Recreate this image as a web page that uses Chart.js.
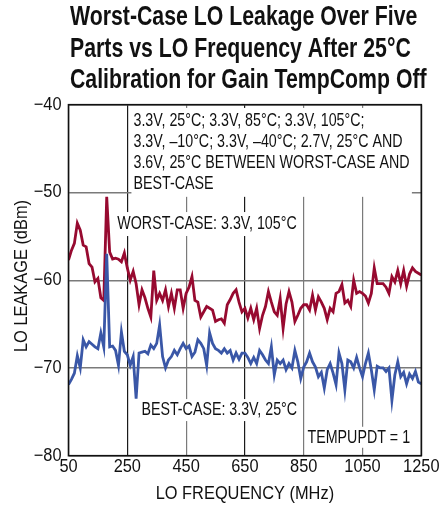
<!DOCTYPE html>
<html>
<head>
<meta charset="utf-8">
<script src="https://cdn.jsdelivr.net/npm/chart.js@4/dist/chart.umd.min.js"></script>
<style>
  html, body { margin: 0; padding: 0; background: #fff; }
  canvas { display: block; }
</style>
</head>
<body>
<canvas id="c" width="439" height="515"></canvas>
<script>
// LO sweep: 50 MHz to 1250 MHz in 10 MHz steps
const FREQ_START = 50;
const FREQ_STEP = 10;

// Worst-case part: 3.3V, 105°C (dBm)
const worstCase = [
  -57.7, -56.6, -55.8, -53.5, -54.3, -56.0, -56.2, -58.1, -58.5, -60.2,
  -59.8, -62.0, -62.3, -50.5, -56.8, -57.6, -57.5, -57.6, -57.9, -56.9,
  -58.6, -60.0, -59.0, -60.4, -62.8, -61.1, -62.0, -63.2, -64.2, -58.9,
  -62.3, -61.5, -62.3, -61.1, -63.0, -61.5, -63.2, -61.1, -61.1, -63.2,
  -61.5, -60.8, -59.6, -62.3, -62.5, -64.2, -63.6, -63.0, -63.2, -63.4,
  -64.7, -64.5, -64.4, -64.9, -62.8, -62.2, -61.5, -61.1, -62.5, -63.6,
  -63.2, -64.3, -63.2, -64.5, -63.2, -65.5, -64.0, -63.0, -61.3, -62.5,
  -63.6, -64.0, -62.1, -65.5, -62.7, -61.3, -62.5, -64.7, -64.0, -63.2,
  -62.8, -62.8, -63.4, -61.7, -63.4, -61.9, -62.5, -63.2, -64.5, -63.2,
  -63.6, -61.5, -61.3, -60.5, -62.6, -62.3, -63.0, -60.0, -61.5, -61.3,
  -61.5, -61.8, -62.6, -61.5, -58.6, -60.4, -60.4, -60.4, -60.8, -61.5,
  -59.6, -60.2, -58.9, -60.4, -58.9, -60.7, -59.3, -58.6, -59.0, -59.2,
  -59.4
];

// Best-case part: 3.3V, 25°C (dBm)
const bestCase = [
  -71.9, -71.3, -70.6, -68.6, -70.0, -66.8, -67.6, -67.0, -67.3, -67.6,
  -67.8, -66.0, -67.6, -57.0, -67.6, -67.5, -68.0, -69.7, -65.9, -68.1,
  -68.5, -69.7, -68.7, -73.5, -68.3, -68.2, -68.1, -68.4, -67.4, -67.8,
  -67.2, -65.1, -68.7, -70.0, -69.1, -68.7, -68.0, -68.5, -67.8, -67.2,
  -67.8, -67.5, -68.7, -68.2, -66.8, -67.2, -67.8, -69.7, -66.0, -67.2,
  -67.8, -68.0, -68.3, -67.8, -68.3, -68.0, -69.1, -68.3, -69.0, -68.3,
  -68.3, -68.8, -69.5, -68.8, -69.5, -68.0, -68.5, -69.1, -69.5, -67.6,
  -70.8, -69.1, -69.5, -69.1, -70.2, -69.5, -70.0, -68.0, -69.3, -71.2,
  -69.9, -69.3, -68.3, -69.3, -69.9, -71.0, -70.5, -72.3, -70.2, -69.5,
  -70.6, -71.9, -68.3, -69.5, -72.5, -69.1, -69.3, -70.0, -68.8, -70.0,
  -71.0, -69.5, -68.3, -70.2, -72.5, -69.8, -70.0, -70.0, -70.4, -70.0,
  -73.7, -70.8, -69.3, -71.0, -70.5, -71.8, -70.7, -71.2, -70.4, -71.6,
  -71.8
];

const xTicks = [50, 250, 450, 650, 850, 1050, 1250];
const yTicks = [-80, -70, -60, -50, -40];
const darkGridX = [250, 650];

const titleLines = [
  'Worst-Case LO Leakage Over Five',
  'Parts vs LO Frequency After 25°C',
  'Calibration for Gain TempComp Off'
];
const xTitle = 'LO FREQUENCY (MHz)';
const yTitle = 'LO LEAKAGE (dBm)';
const noteLines = [
  '3.3V, 25°C; 3.3V, 85°C; 3.3V, 105°C;',
  '3.3V, –10°C; 3.3V, –40°C; 2.7V, 25°C AND',
  '3.6V, 25°C BETWEEN WORST-CASE AND',
  'BEST-CASE'
];
const worstLabel = 'WORST-CASE: 3.3V, 105°C';
const bestLabel = 'BEST-CASE: 3.3V, 25°C';
const modeLabel = 'TEMPUPDT = 1';

const freqMHz = worstCase.map((_, i) => FREQ_START + i * FREQ_STEP);
const toPoints = arr => arr.map((v, i) => ({ x: freqMHz[i], y: v }));

const FAMILY = "'Liberation Sans', Arial, sans-serif";
const INK = '#111';
const minus = v => String(v).replace('-', '\u2212');

// Draw a line of text squeezed horizontally (condensed look)
function squeezed(ctx, text, x, y, o) {
  ctx.save();
  ctx.font = `${o.weight || 'normal'} ${o.size}px ${FAMILY}`;
  ctx.fillStyle = INK;
  ctx.textBaseline = o.baseline || 'middle';
  ctx.textAlign = o.align || 'left';
  ctx.translate(x, y);
  if (o.rotate) ctx.rotate(o.rotate);
  ctx.scale(o.sx, 1);
  ctx.fillText(text, 0, 0);
  ctx.restore();
}
function squeezedWidth(ctx, text, o) {
  ctx.save();
  ctx.font = `${o.weight || 'normal'} ${o.size}px ${FAMILY}`;
  const w = ctx.measureText(text).width * o.sx;
  ctx.restore();
  return w;
}

const AXIS_TXT = { size: 18, sx: 0.91 };
const NOTE_TXT = { size: 19, sx: 0.75 };
const TITLE_TXT = { size: 28, sx: 0.76, weight: 'bold', baseline: 'alphabetic' };

// Annotation blocks on a white backing; positions are in data units.
// box = [xFrom, xTo, yTop, yBottom]; when omitted the backing hugs the text.
const notesPlugin = {
  id: 'notes',
  beforeDatasetsDraw(chart) {
    const { ctx, scales: { x, y } } = chart;
    const block = (lines, fx, fyFirst, lineH, box) => {
      const left = x.getPixelForValue(fx);
      const first = y.getPixelForValue(fyFirst);
      let x0, x1, y0, y1;
      if (box) {
        x0 = x.getPixelForValue(box[0]); x1 = x.getPixelForValue(box[1]);
        y0 = y.getPixelForValue(box[2]); y1 = y.getPixelForValue(box[3]);
      } else {
        let w = 0;
        lines.forEach(l => { w = Math.max(w, squeezedWidth(ctx, l, NOTE_TXT)); });
        x0 = left - 2; x1 = left + w + 2;
        y0 = first - lineH / 2; y1 = first + lineH * (lines.length - 0.5);
      }
      ctx.save();
      ctx.fillStyle = '#fff';
      ctx.fillRect(x0, y0, x1 - x0, y1 - y0);
      ctx.restore();
      lines.forEach((l, i) => squeezed(ctx, l, left, first + lineH * i, NOTE_TXT));
    };
    block(noteLines, 271, -41.8, 21, [264, 1218, -40.37, -50.5]);
    block([worstLabel], 216, -53.6, 24);
    block([bestLabel], 298, -74.8, 22);
    block([modeLabel], 863, -77.9, 21);
  }
};

// Frame, tick labels, axis titles and heading
const textPlugin = {
  id: 'texts',
  afterDatasetsDraw(chart) {
    const { ctx, chartArea: a, scales: { x, y } } = chart;
    ctx.save();
    ctx.strokeStyle = INK;
    ctx.lineWidth = 1.6;
    ctx.strokeRect(a.left, a.top, a.right - a.left, a.bottom - a.top);
    ctx.restore();

    yTicks.forEach(v => squeezed(ctx, minus(v), a.left - 7, y.getPixelForValue(v), { ...AXIS_TXT, align: 'right' }));
    xTicks.forEach(v => squeezed(ctx, String(v), x.getPixelForValue(v), a.bottom + 11.5, { ...AXIS_TXT, align: 'center' }));
    squeezed(ctx, xTitle, (a.left + a.right) / 2, a.bottom + 38.5, { ...AXIS_TXT, align: 'center' });
    squeezed(ctx, yTitle, 22, 276, { ...AXIS_TXT, align: 'center', rotate: -Math.PI / 2 });

    titleLines.forEach((t, i) => squeezed(ctx, t, 70, 25 + i * 31.5, TITLE_TXT));
  }
};

new Chart(document.getElementById('c'), {
  type: 'line',
  data: {
    datasets: [
      {
        label: bestLabel,
        data: toPoints(bestCase),
        borderColor: '#3a57a7',
        borderWidth: 2.8,
        pointRadius: 0,
        tension: 0,
        fill: false
      },
      {
        label: worstLabel,
        data: toPoints(worstCase),
        borderColor: '#970a30',
        borderWidth: 2.8,
        pointRadius: 0,
        tension: 0,
        fill: false
      }
    ]
  },
  options: {
    responsive: false,
    animation: false,
    events: [],
    layout: { padding: { left: 0, right: 17.7, top: 104.7, bottom: 0 } },
    plugins: {
      legend: { display: false },
      tooltip: { enabled: false }
    },
    scales: {
      x: {
        type: 'linear',
        min: 50,
        max: 1250,
        afterBuildTicks: s => { s.ticks = xTicks.map(v => ({ value: v })); },
        afterFit: s => { s.height = 59.3; },
        grid: {
          drawTicks: false,
          lineWidth: 1.2,
          color: c => (c.tick && darkGridX.includes(c.tick.value)) ? '#1a1a1a' : '#7a7a7a'
        },
        border: { display: false },
        ticks: { display: false },
        title: { display: false }
      },
      y: {
        type: 'linear',
        min: -80,
        max: -40,
        afterBuildTicks: s => { s.ticks = yTicks.map(v => ({ value: v })); },
        afterFit: s => { s.width = 68.5; },
        grid: { drawTicks: false, lineWidth: 1.4, color: '#7a7a7a' },
        border: { display: false },
        ticks: { display: false },
        title: { display: false }
      }
    }
  },
  plugins: [notesPlugin, textPlugin]
});
</script>
</body>
</html>
